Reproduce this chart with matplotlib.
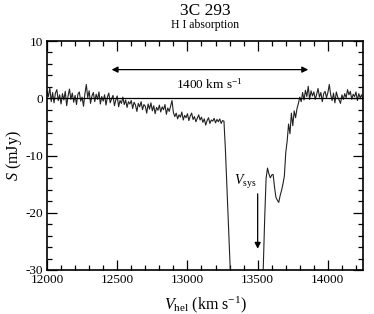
import matplotlib
matplotlib.use('Agg')
import matplotlib.pyplot as plt
import numpy as np

plt.rcParams['font.family'] = ['Liberation Serif', 'DejaVu Serif']
plt.rcParams['mathtext.fontset'] = 'custom'
plt.rcParams['mathtext.rm'] = 'Liberation Serif'
plt.rcParams['mathtext.it'] = 'Liberation Serif:italic'
plt.rcParams['axes.unicode_minus'] = False

# Channel grid (km/s) and measured flux density (mJy)
v_start = 12000
v_step = 10
flux = [
    1.2, 0.3, 1.8, -0.6, 1.0, -0.8, 0.9, 1.5, -0.4, 0.6,
    -1.0, 0.8, -0.3, 1.2, -1.3, 0.4, 1.6, -0.2, 0.9, -0.7,
    0.5, -1.1, 0.7, 1.1, -0.5, 0.2, -1.4, 0.8, 2.4, 0.1,
    1.3, -0.9, 0.4, 1.0, -0.6, 0.7, -0.2, 1.1, -1.0, 0.3,
    -0.5, 0.6, -1.2, 0.2, 0.9, -0.8, -0.1, 0.5, -1.3, -0.3,
    0.4, -1.5, -0.4, -0.9, 0.2, -1.1, -0.3, -1.6, -0.6, -1.0,
    -0.4, -1.8, -0.7, -1.2, -2.3, -0.9, -1.5, -0.6, -2.0, -1.1,
    -1.4, -2.6, -1.0, -1.9, -0.8, -2.2, -1.3, -2.7, -1.6, -2.1,
    -1.2, -2.4, -1.5, -2.0, -1.1, -2.8, -1.7, -2.3, -1.4, -0.4,
    -2.5, -3.2, -2.6, -3.6, -2.9, -3.3, -2.4, -3.8, -3.0, -3.4,
    -2.7, -3.9, -3.1, -2.6, -3.7, -3.2, -4.1, -3.5, -2.9, -3.8,
    -3.3, -4.2, -3.6, -4.7, -3.9, -3.4, -4.4, -3.8, -4.0, -3.5,
    -4.3, -3.7, -4.1, -3.6, -4.4, -3.9, -4.0, -8.8, -15.0, -21.0,
    -27.0, -33.0, -40.0, -40.0, -40.0, -40.0, -40.0, -40.0, -40.0, -40.0,
    -40.0, -40.0, -40.0, -40.0, -40.0, -40.0, -40.0, -40.0, -40.0, -40.0,
    -40.0, -40.0, -40.0, -40.0, -29.5, -21.0, -14.0, -12.2, -13.2, -13.9,
    -13.4, -13.3, -15.5, -17.3, -17.8, -18.2, -17.0, -16.1, -15.0, -13.6,
    -9.5, -7.5, -4.5, -6.2, -2.6, -4.8, -2.2, -3.4, -1.8, -0.9,
    0.2, -0.6, 1.0, -0.3, 1.4, 0.3, 2.1, -0.2, 1.3, 0.4,
    1.1, -0.2, 0.7, 1.7, 0.2, 1.0, -0.6, 0.8, 1.2, 0.1,
    1.0, 2.4, 0.6, -0.4, 0.9, -0.8, 1.1, 0.2, -0.3, -0.9,
    0.6, -0.2, 0.8, 0.1, 1.5, 0.6, 1.2, -0.2, 0.7, 0.3,
    1.1, -0.4, 0.8, 0.1, 0.6, -0.2,
]
velocity = v_start + v_step * np.arange(len(flux))

x_ticks = [12000, 12500, 13000, 13500, 14000]
y_ticks = [-30, -20, -10, 0, 10]
width_span = [12460, 13860]
v_sys = 13500

fig = plt.figure(figsize=(3.74, 3.14), dpi=100)
ax = fig.add_axes([47 / 374, 1 - 270 / 314, 316 / 374, 229 / 314])

ax.plot(velocity, flux, color='#222222', lw=0.8)
ax.axhline(0, color='black', lw=0.9)

ax.set_xlim(12000, 14250)
ax.set_ylim(-30, 10)
ax.set_xticks(x_ticks)
ax.set_yticks(y_ticks)
ax.set_xticks(np.arange(12000, 14300, 100), minor=True)
ax.set_yticks(np.arange(-30, 11, 2), minor=True)
ax.tick_params(which='both', direction='in', top=True, right=True,
               labelsize=9.5, width=0.9)
ax.tick_params(which='major', length=7, pad=3)
ax.tick_params(which='minor', length=3.5)
for s in ax.spines.values():
    s.set_linewidth(1.2)

ax.set_xlabel(r'$V_{\rm hel}$ (km s$^{-1}$)', fontsize=11.5, labelpad=6)
ax.set_ylabel(r'$S$ (mJy)', fontsize=11.5, labelpad=1)

# width arrow
ax.annotate('', xy=(width_span[0], 5), xytext=(width_span[1], 5),
            arrowprops=dict(arrowstyle='<|-|>', color='black', lw=0.9,
                            mutation_scale=9, shrinkA=0, shrinkB=0))
ax.text((width_span[0] + width_span[1]) / 2 - 5, 2.4, r'1400 km s$^{-1}$',
        ha='center', va='center', fontsize=9.5)

# systemic velocity arrow
ax.annotate('', xy=(v_sys, -26.3), xytext=(v_sys, -16.7),
            arrowprops=dict(arrowstyle='-|>', color='black', lw=0.9,
                            mutation_scale=9, shrinkA=0, shrinkB=0))
ax.text(13410, -14.6, r'$V_{\rm sys}$', ha='center', va='center', fontsize=10)

fig.text(205 / 374, 1 - 11 / 314, '3C 293', ha='center', va='center', fontsize=12.5)
fig.text(205 / 374, 1 - 25 / 314, 'H I absorption', ha='center', va='center', fontsize=8.5)

fig.savefig('out.png', dpi=100)
